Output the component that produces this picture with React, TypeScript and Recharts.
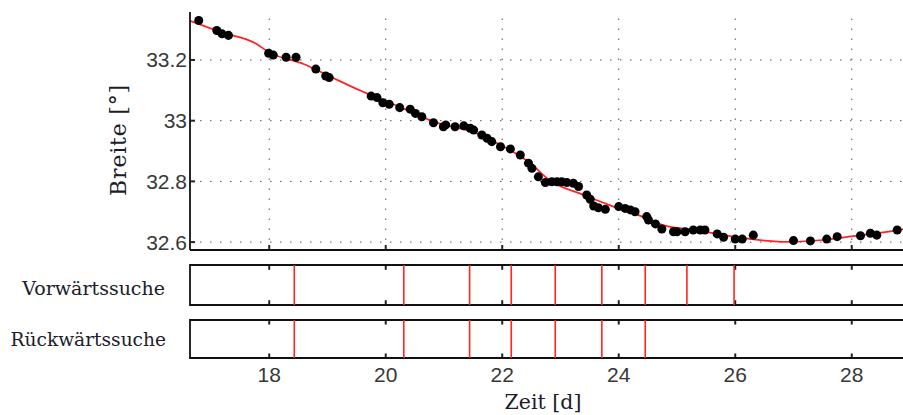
import React from 'react';
import {
  ComposedChart,
  Scatter,
  Line,
  XAxis,
  YAxis,
  ReferenceLine,
  ReferenceArea
} from 'recharts';

// axis ticks
const xTicks = [18, 20, 22, 24, 26, 28];
const yTicks = [32.6, 32.8, 33, 33.2];

// measured positions (time in days, latitude in degrees)
const obsT = [
  16.79, 17.1, 17.19, 17.3, 17.99, 18.07, 18.29, 18.46, 18.8, 18.97, 19.03, 19.75, 19.85, 19.95,
  20.06, 20.24, 20.42, 20.51, 20.62, 20.82, 20.99, 21.03, 21.19, 21.34, 21.45, 21.51, 21.65,
  21.74, 21.82, 21.97, 22.14, 22.31, 22.45, 22.51, 22.62, 22.74, 22.85, 22.94, 23.02, 23.11,
  23.22, 23.31, 23.45, 23.51, 23.57, 23.65, 23.77, 24.0, 24.11, 24.2, 24.28, 24.48, 24.51,
  24.63, 24.74, 24.94, 25.0, 25.14, 25.28, 25.4, 25.48, 25.69, 25.8, 26.0, 26.12, 26.31, 27.0,
  27.29, 27.57, 27.75, 28.15, 28.32, 28.43, 28.78
];
const obsV = [
  33.33, 33.297, 33.286, 33.281, 33.222, 33.216, 33.209, 33.209, 33.17, 33.147, 33.142, 33.081,
  33.076, 33.059, 33.054, 33.043, 33.038, 33.024, 33.013, 32.993, 32.98, 32.986, 32.98, 32.983,
  32.975, 32.969, 32.953, 32.942, 32.931, 32.914, 32.907, 32.887, 32.86, 32.843, 32.815, 32.796,
  32.799, 32.799, 32.799, 32.796, 32.794, 32.783, 32.755, 32.741, 32.719, 32.713, 32.708,
  32.717, 32.711, 32.706, 32.7, 32.684, 32.673, 32.66, 32.643, 32.634, 32.634, 32.634, 32.64,
  32.64, 32.64, 32.627, 32.616, 32.61, 32.61, 32.623, 32.605, 32.604, 32.61, 32.618, 32.621,
  32.629, 32.623, 32.64
];

// smoothed track (red curve)
const fitT = [
  16.64, 17.2, 17.76, 18.0, 18.6, 19.05, 19.6, 20.08, 20.5, 20.82, 21.2, 21.45, 21.97, 22.48,
  22.82, 23.39, 23.91, 24.4, 24.76, 25.3, 25.91, 26.5, 26.94, 27.5, 28.03, 28.5, 29.0
];
const fitV = [
  33.329, 33.29, 33.255, 33.225, 33.186, 33.145, 33.096, 33.058, 33.024, 32.997, 32.978, 32.966,
  32.92, 32.86, 32.803, 32.756, 32.717, 32.684, 32.656, 32.64, 32.62, 32.605, 32.601, 32.607,
  32.62, 32.631, 32.646
];

// detected change points
const forwardHits = [18.43, 20.31, 21.44, 22.155, 22.91, 23.71, 24.455, 25.17, 25.98];
const backwardHits = [18.43, 20.31, 21.44, 22.155, 22.91, 23.71, 24.455];

const X_DOMAIN: [number, number] = [16.64, 29.0];
const Y_DOMAIN: [number, number] = [32.574, 33.358];

const observations = obsT.map((t, i) => ({ t, v: obsV[i] }));
const track = fitT.map((t, i) => ({ t, v: fitV[i] }));

const AXIS = '#111';
const RED = '#ff2424';
const TICK_COLOR = '#222';
const LABEL_COLOR = '#383838';
const GRID = '#555';
const serif = '"DejaVu Serif", serif';
const sans = '"Liberation Sans", Arial, sans-serif';

// tick mark sizes in data units (plot is 720 x 238 px for the main panel)
const DX = (X_DOMAIN[1] - X_DOMAIN[0]) / 720;
const DY = (Y_DOMAIN[1] - Y_DOMAIN[0]) / 238;

const tickBox = (key: string, x1: number, x2: number, y1: number, y2: number) => (
  <ReferenceArea
    key={key}
    x1={x1}
    x2={x2}
    y1={y1}
    y2={y2}
    fill={TICK_COLOR}
    fillOpacity={1}
    stroke="none"
  />
);

const Strip = ({ hits, top, showAxis }: { hits: number[]; top: number; showAxis: boolean }) => (
  <div style={{ position: 'absolute', left: 0, top }}>
    <ComposedChart
      width={920}
      height={showAxis ? 100 : 50}
      margin={{ top: 5, right: 10, bottom: showAxis ? 27 : 5, left: 0 }}
    >
      <XAxis
        type="number"
        dataKey="t"
        domain={X_DOMAIN}
        ticks={xTicks}
        allowDataOverflow
        axisLine={false}
        tickLine={false}
        tickSize={0}
        tickMargin={9}
        height={showAxis ? 30 : 0}
        tick={showAxis ? { fill: LABEL_COLOR, fontSize: 21, fontFamily: sans } : false}
      />
      <YAxis
        type="number"
        dataKey="y"
        domain={[0, 1]}
        allowDataOverflow
        width={190}
        tick={false}
        axisLine={false}
        tickLine={false}
      />
      <Scatter data={hits.map((t) => ({ t, y: 0.5 }))} shape={() => <g />} isAnimationActive={false} />
      {hits.map((t) => (
        <ReferenceLine key={'h' + t} x={t} stroke={RED} strokeWidth={1.6} />
      ))}
      {xTicks.map((t) => tickBox('sb' + t, t - DX, t + DX, 0, 0.12))}
      {xTicks.map((t) => tickBox('st' + t, t - DX, t + DX, 0.88, 1))}
      <ReferenceArea
        x1={X_DOMAIN[0]}
        x2={X_DOMAIN[1]}
        y1={0}
        y2={1}
        fill="none"
        fillOpacity={0}
        stroke={AXIS}
        strokeWidth={1.8}
      />
    </ComposedChart>
  </div>
);

export default function App() {
  return (
    <div
      style={{
        position: 'fixed',
        left: 0,
        top: 0,
        width: 903,
        height: 415,
        overflow: 'hidden',
        background: '#fff'
      }}
    >
      <div style={{ position: 'absolute', left: 0, top: 0 }}>
        <ComposedChart width={920} height={260} margin={{ top: 12, right: 10, bottom: 9, left: 0 }}>
          <XAxis
            type="number"
            dataKey="t"
            domain={X_DOMAIN}
            ticks={xTicks}
            allowDataOverflow
            tickLine={false}
            tick={false}
            height={1}
            axisLine={{ stroke: AXIS, strokeWidth: 1.8 }}
          />
          <YAxis
            type="number"
            dataKey="v"
            domain={Y_DOMAIN}
            ticks={yTicks}
            allowDataOverflow
            width={190}
            tickLine={false}
            tickSize={0}
            tickMargin={3}
            tickFormatter={(v: number) => String(v)}
            tick={{ fill: LABEL_COLOR, fontSize: 21, fontFamily: sans }}
            axisLine={{ stroke: AXIS, strokeWidth: 1.8 }}
          />
          {xTicks.map((t) => (
            <ReferenceLine key={'gx' + t} x={t} stroke={GRID} strokeDasharray="1.5 8.5" />
          ))}
          {yTicks.map((v) => (
            <ReferenceLine key={'gy' + v} y={v} stroke={GRID} strokeDasharray="1.5 8.5" />
          ))}
          {xTicks.map((t) => tickBox('mb' + t, t - DX, t + DX, Y_DOMAIN[0], Y_DOMAIN[0] + 5 * DY))}
          {yTicks.map((v) => tickBox('ml' + v, X_DOMAIN[0], X_DOMAIN[0] + 5 * DX, v - DY, v + DY))}
          <Line
            data={track}
            dataKey="v"
            type="monotone"
            stroke={RED}
            strokeWidth={1.7}
            dot={false}
            isAnimationActive={false}
          />
          <Scatter data={observations} dataKey="v" fill="#000" shape="circle" isAnimationActive={false} />
        </ComposedChart>
      </div>

      <Strip hits={forwardHits} top={260} showAxis={false} />
      <Strip hits={backwardHits} top={315} showAxis={true} />

      <svg width={903} height={415} style={{ position: 'absolute', left: 0, top: 0, pointerEvents: 'none' }}>
        <text
          x={118}
          y={140}
          transform="rotate(-90 118 140)"
          textAnchor="middle"
          dominantBaseline="central"
          fontFamily={serif}
          fontSize={22}
          letterSpacing={0.8}
          fill="#1c1c2a"
        >
          Breite [°]
        </text>
        <text x={165} y={288} textAnchor="end" dominantBaseline="central" fontFamily={serif} fontSize={19} fill="#1c1c2a">
          Vorwärtssuche
        </text>
        <text x={166} y={339} textAnchor="end" dominantBaseline="central" fontFamily={serif} fontSize={18.6} fill="#1c1c2a">
          Rückwärtssuche
        </text>
        <text x={543} y={402} textAnchor="middle" dominantBaseline="central" fontFamily={serif} fontSize={20.5} fill="#1c1c2a">
          Zeit [d]
        </text>
      </svg>
    </div>
  );
}
